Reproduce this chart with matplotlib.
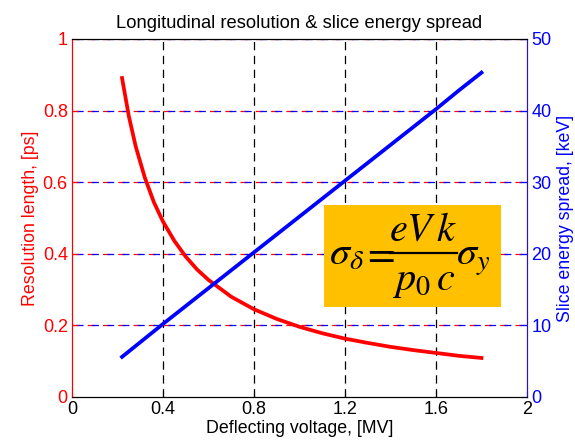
import numpy as np
import matplotlib
matplotlib.use("Agg")
import matplotlib.pyplot as plt
from matplotlib.patches import Rectangle
from matplotlib.lines import Line2D

plt.rcParams['font.family'] = ['Liberation Sans', 'DejaVu Sans']
plt.rcParams['mathtext.fontset'] = 'stix'
plt.rcParams['lines.scale_dashes'] = False

# deflecting voltage [MV] and resolution length [ps]
volt_res = [0.22, 0.25, 0.28, 0.32, 0.36, 0.40, 0.45, 0.50, 0.55, 0.60, 0.70,
            0.80, 0.90, 1.00, 1.10, 1.20, 1.30, 1.40, 1.50, 1.60, 1.70, 1.80]
resolution = [0.891, 0.784, 0.700, 0.613, 0.544, 0.490, 0.436, 0.392, 0.356,
              0.327, 0.280, 0.245, 0.218, 0.196, 0.178, 0.163, 0.151, 0.140,
              0.131, 0.123, 0.115, 0.109]

# deflecting voltage [MV] and slice energy spread [keV]
volt_spread = [0.22, 0.40, 0.60, 0.80, 1.00, 1.20, 1.40, 1.60, 1.70, 1.80]
spread = [5.6, 10.2, 15.2, 20.2, 25.2, 30.2, 35.2, 40.2, 42.8, 45.3]

xticks = [0, 0.4, 0.8, 1.2, 1.6, 2]
xticklabels = ['0', '0.4', '0.8', '1.2', '1.6', '2']
lticks = [0, 0.2, 0.4, 0.6, 0.8, 1]
lticklabels = ['0', '0.2', '0.4', '0.6', '0.8', '1']
rticks = [0, 10, 20, 30, 40, 50]

W, H = 575, 447
fig = plt.figure(figsize=(W / 100, H / 100), dpi=100)
ax1 = fig.add_axes([0.1252, 0.1119, 0.7913, 0.8009])
ax2 = ax1.twinx()
ax2.set_position([0.1252, 0.1119, 0.7913, 0.8009])

# grid lines
for x in xticks[1:-1]:
    ax1.axvline(x, color='black', lw=0.9, ls=(0, (6, 4)), zorder=1)
for y in lticks[1:]:
    ax1.axhline(y, color='red', lw=0.9, ls=(0, (5, 6)), zorder=1)
    ax1.axhline(y, color='blue', lw=0.9, ls=(8, (5, 6)), zorder=1.1)

ax1.plot(volt_res, resolution, color='red', lw=2.7, zorder=3)
ax2.plot(volt_spread, spread, color='blue', lw=2.7, zorder=3)

ax1.set_xlim(0, 2)
ax1.set_ylim(0, 1)
ax2.set_ylim(0, 50)
ax1.set_xticks(xticks)
ax1.set_xticklabels(xticklabels)
ax1.set_yticks(lticks)
ax1.set_yticklabels(lticklabels)
ax2.set_yticks(rticks)

ax1.tick_params(axis='x', direction='in', length=4, labelsize=13, colors='black', pad=3)
ax1.tick_params(axis='y', direction='in', length=4, labelsize=13, colors='red', pad=3)
ax2.tick_params(axis='y', direction='in', length=4, labelsize=13, colors='blue', pad=3)

ax1.spines['left'].set_color('red')
ax2.spines['left'].set_color('red')
ax1.spines['right'].set_color('blue')
ax2.spines['right'].set_color('#3010c0')

ax1.set_xlabel('Deflecting voltage, [MV]', fontsize=12.8, labelpad=1)
ax1.set_ylabel('Resolution length, [ps]', fontsize=12.8, color='red', labelpad=3)
ax2.set_ylabel('Slice energy spread, [keV]', fontsize=12.8, color='blue', labelpad=4)
ax1.set_title('Longitudinal resolution & slice energy spread', fontsize=13.2, pad=8)

# formula box (pixel layout of the reference)
def fx(px):
    return px / W

def fy(py):
    return 1 - py / H

ax2.add_patch(Rectangle((0.554, 0.252), 0.389, 0.284, transform=ax2.transAxes,
                        facecolor='#FFC000', edgecolor='none', zorder=4))
fs = 29
fig.text(fx(329), fy(265), r'$\sigma_{\delta}$', fontsize=fs, va='baseline', ha='left')
fig.text(fx(379), fy(265), r'$=$', fontsize=fs, va='baseline', ha='center')
fig.text(fx(423), fy(241), r'$eV\,k$', fontsize=fs, va='baseline', ha='center')
fig.text(fx(424), fy(290), r'$p_0\,c$', fontsize=fs, va='baseline', ha='center')
fig.text(fx(456), fy(265), r'$\sigma_{y}$', fontsize=fs, va='baseline', ha='left')
fig.add_artist(Line2D([fx(390), fx(457)], [fy(253), fy(253)], color='black',
                      lw=1.6, transform=fig.transFigure))

fig.savefig('out.png', dpi=100)
